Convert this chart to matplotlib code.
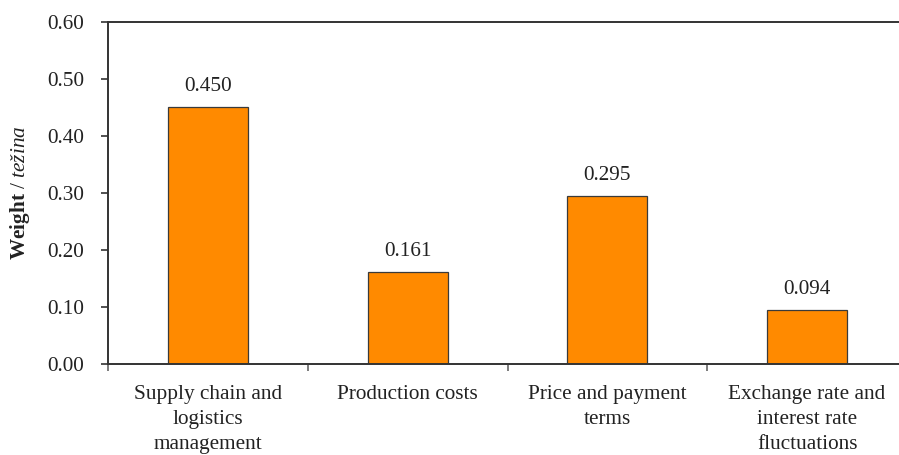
import matplotlib
matplotlib.use('Agg')
import matplotlib.pyplot as plt
import numpy as np

plt.rcParams['font.family'] = ['Liberation Serif', 'DejaVu Serif']
plt.rcParams['mathtext.fontset'] = 'custom'
plt.rcParams['mathtext.rm'] = 'Liberation Serif'
plt.rcParams['mathtext.it'] = 'Liberation Serif:italic'
plt.rcParams['mathtext.bf'] = 'Liberation Serif:bold'

categories = ['Supply chain and\nlogistics\nmanagement',
              'Production costs',
              'Price and payment\nterms',
              'Exchange rate and\ninterest rate\nfluctuations']
weights = [0.450, 0.161, 0.295, 0.094]
y_ticks = [0.0, 0.1, 0.2, 0.3, 0.4, 0.5, 0.6]

FS = 15.3
EDGE = '#333333'
TEXT = '#222222'

fig = plt.figure(figsize=(8.99, 4.55), dpi=100)
ax = fig.add_axes([108 / 899, 0.2, 799 / 899, 0.7527])

x = np.arange(len(categories))
ax.bar(x, weights, width=0.4, color='#FF8A00', edgecolor='#3a3a3a', linewidth=0.9)

for xi, w in zip(x, weights):
    ax.annotate('%.3f' % w, (xi, w), xytext=(0, 8), textcoords='offset points',
                ha='center', va='bottom', fontsize=FS, color=TEXT)

ax.set_xlim(-0.5, len(categories) - 0.5)
ax.set_ylim(0, 0.6)
ax.set_yticks(y_ticks)
ax.set_yticklabels(['%.2f' % t for t in y_ticks], fontsize=FS, color=TEXT)
ax.set_xticks(x)
ax.set_xticklabels(categories, fontsize=FS, color=TEXT, linespacing=1.42)
ax.set_xticks(np.arange(-0.5, len(categories), 1.0), minor=True)
ax.tick_params(axis='x', which='major', length=0, pad=15)
ax.tick_params(axis='x', which='minor', length=5, width=1.2, color='#666666')
ax.tick_params(axis='y', length=5, width=1.2, color=EDGE, pad=12)

ax.spines['right'].set_visible(False)
for side in ('left', 'bottom', 'top'):
    ax.spines[side].set_color(EDGE)
    ax.spines[side].set_linewidth(1.4)

ax.set_ylabel(r'$\mathbf{Weight}$ / $\mathit{težina}$', fontsize=FS, color=TEXT)
ax.yaxis.set_label_coords(-0.095, 0.5)

fig.savefig('out.png', dpi=100)
